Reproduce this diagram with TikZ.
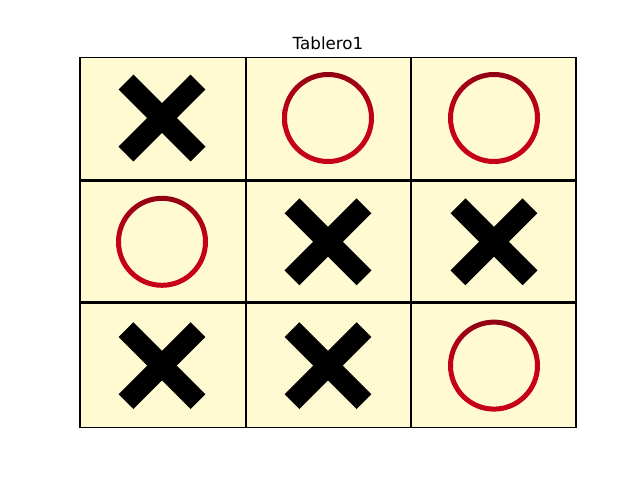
\documentclass[tikz,border=0pt]{standalone}
\usepackage{fontspec}
\setsansfont{DejaVu Sans}
\usepackage{tikz}
\usetikzlibrary{positioning}
\definecolor{fondo}{RGB}{255,250,210}
\definecolor{rojoO}{RGB}{198,0,28}
\definecolor{rojoOsc}{RGB}{145,0,18}

\begin{document}
\begin{tikzpicture}[x=1pt,y=-1pt]
    \useasboundingbox (0,0) rectangle (640,480);
    % Fondo del tablero
    \fill[fondo] (80,57.6) rectangle (576,427.4);
    % Lineas interiores
    \foreach \xl in {246,411} {
        \draw[line width=2.8] (\xl,57.6) -- (\xl,427.4);
    }
    \foreach \yl in {180.5,302.8} {
        \draw[line width=2.8] (80,\yl) -- (576,\yl);
    }
    % Cruces (columna/fila)
    \foreach \c/\f in {1/1,2/2,3/2,1/3,2/3} {
        \pgfmathsetmacro{\x}{162+(\c-1)*166}
        \pgfmathsetmacro{\y}{118+(\f-1)*123.8}
        \draw[line width=21] ({\x-36},{\y-36}) -- ({\x+36},{\y+36});
        \draw[line width=21] ({\x-36},{\y+36}) -- ({\x+36},{\y-36});
    }
    % Circulos
    \foreach \c/\f in {2/1,3/1,1/2,3/3} {
        \pgfmathsetmacro{\x}{162+(\c-1)*166}
        \pgfmathsetmacro{\y}{118+(\f-1)*123.8}
        \path[even odd rule, top color=rojoOsc, bottom color=rojoO, middle color=rojoO]
            (\x,\y) circle (46) (\x,\y) circle (41);
    }
    % Borde
    \draw[line width=1.1] (80,57.6) rectangle (576,427.4);
    \node[font=\sffamily\fontsize{16.7}{20}\selectfont, anchor=base] (titulo) at (328,49.3) {Tablero1};
\end{tikzpicture}
\end{document}
